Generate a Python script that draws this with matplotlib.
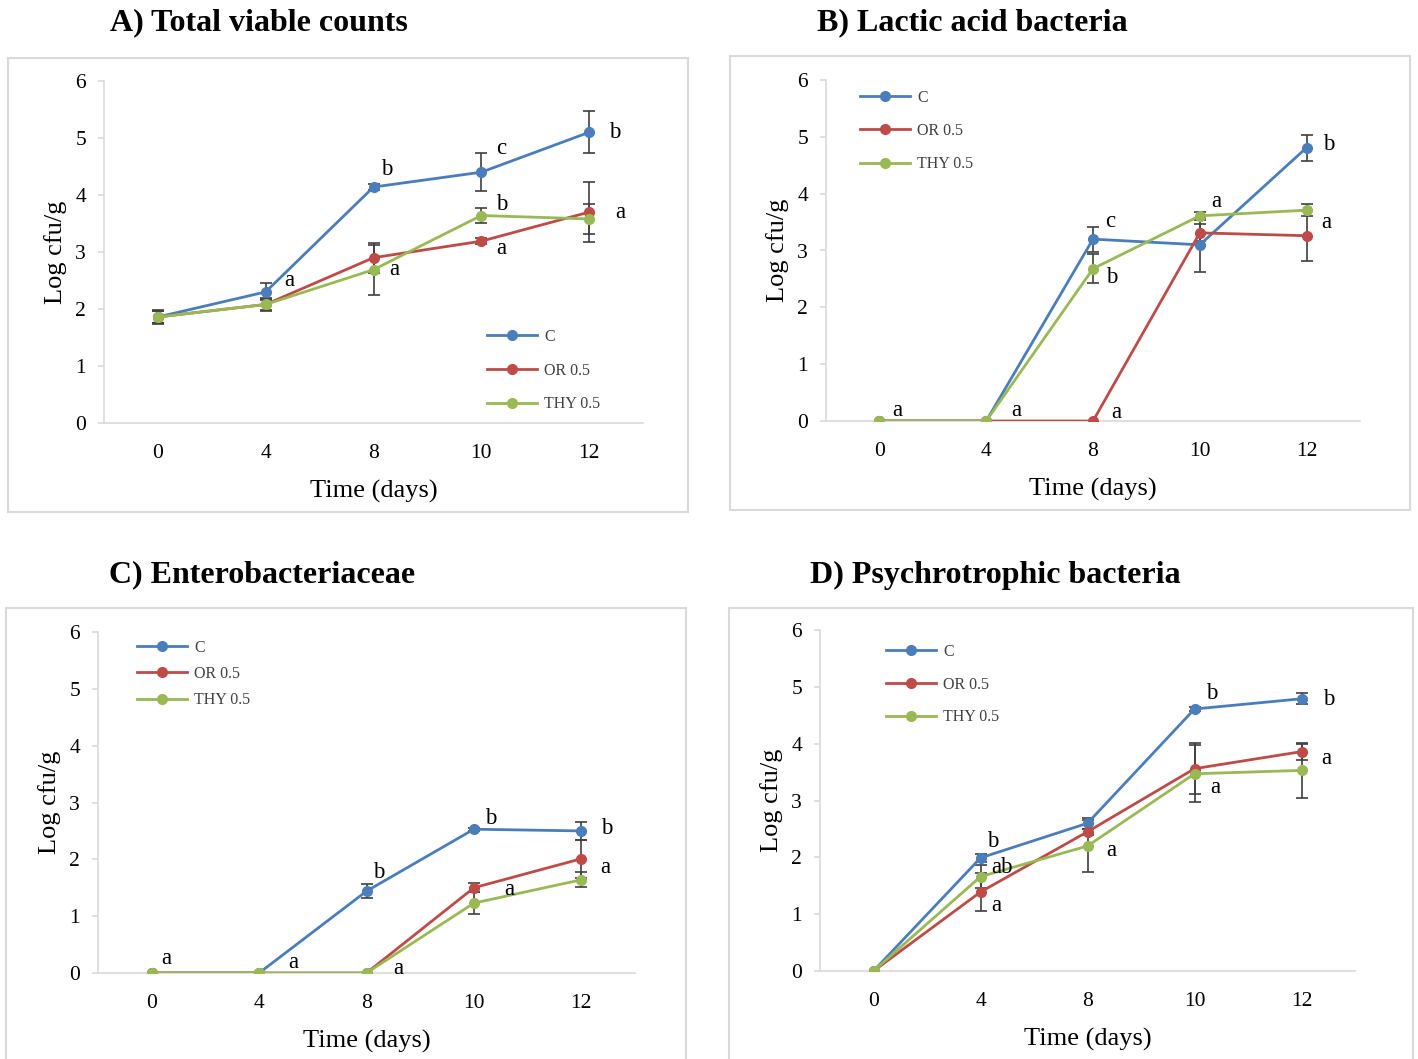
import numpy as np
import matplotlib
matplotlib.use("Agg")
import matplotlib.pyplot as plt
from matplotlib.patches import Rectangle

plt.rcParams['font.family'] = ['Liberation Serif', 'DejaVu Serif']

# storage days (categorical axis)
days = ['0', '4', '8', '10', '12']
series_names = ['C', 'OR 0.5', 'THY 0.5']
colors = ['#4A7EBB', '#BE4B48', '#98B954']

# A) Total viable counts
tvc_c = [1.86, 2.30, 4.14, 4.40, 5.10]
tvc_c_err = [0.13, 0.15, 0.05, 0.33, 0.37]
tvc_or = [1.86, 2.08, 2.90, 3.19, 3.70]
tvc_or_err = [0.10, 0.12, 0.26, 0.05, 0.53]
tvc_thy = [1.86, 2.08, 2.69, 3.64, 3.58]
tvc_thy_err = [0.10, 0.10, 0.44, 0.13, 0.27]

# B) Lactic acid bacteria
lab_c = [0, 0, 3.20, 3.10, 4.81]
lab_c_err = [0, 0, 0.22, 0.48, 0.23]
lab_or = [0, 0, 0, 3.31, 3.26]
lab_or_err = [0, 0, 0, 0.15, 0.44]
lab_thy = [0, 0, 2.68, 3.61, 3.71]
lab_thy_err = [0, 0, 0.25, 0.07, 0.10]

# C) Enterobacteriaceae
ent_c = [0, 0, 1.44, 2.53, 2.50]
ent_c_err = [0, 0, 0.12, 0.03, 0.16]
ent_or = [0, 0, 0, 1.50, 2.01]
ent_or_err = [0, 0, 0, 0.08, 0.33]
ent_thy = [0, 0, 0, 1.23, 1.64]
ent_thy_err = [0, 0, 0, 0.20, 0.13]

# D) Psychrotrophic bacteria
psy_c = [0, 1.99, 2.60, 4.61, 4.79]
psy_c_err = [0, 0.07, 0.10, 0.03, 0.10]
psy_or = [0, 1.39, 2.45, 3.56, 3.86]
psy_or_err = [0, 0.33, 0.05, 0.45, 0.14]
psy_thy = [0, 1.66, 2.20, 3.47, 3.53]
psy_thy_err = [0, 0.20, 0.45, 0.50, 0.48]

titles = ['A) Total viable counts', 'B) Lactic acid bacteria',
          'C) Enterobacteriaceae', 'D) Psychrotrophic bacteria']

# significance letters: (series, day index, letter)
letters_a = [(0, 1, 'a'), (0, 2, 'b'), (2, 2, 'a'), (0, 3, 'c'), (2, 3, 'b'),
             (1, 3, 'a'), (0, 4, 'b'), (1, 4, 'a')]
letters_b = [(0, 0, 'a'), (0, 1, 'a'), (1, 2, 'a'), (0, 2, 'c'), (2, 2, 'b'),
             (2, 3, 'a'), (0, 4, 'b'), (2, 4, 'a')]
letters_c = [(0, 0, 'a'), (0, 1, 'a'), (1, 2, 'a'), (0, 2, 'b'), (0, 3, 'b'),
             (2, 3, 'a'), (0, 4, 'b'), (2, 4, 'a')]
letters_d = [(0, 1, 'b'), (2, 1, 'ab'), (1, 1, 'a'), (2, 2, 'a'), (0, 3, 'b'),
             (2, 3, 'a'), (0, 4, 'b'), (1, 4, 'a')]

# label offsets in pixels from the marker
offs_a = [(24, 11), (13, 18), (21, 0), (20, 24), (20, 11), (20, -7), (26, 0), (31, 0)]
offs_b = [(18, 11), (30, 11), (23, 9), (17, 18), (19, -9), (17, 14), (22, 3), (20, -12)]
offs_c = [(15, 14), (34, 11), (32, 5), (12, 19), (17, 11), (35, 14), (25, 2), (24, 12)]
offs_d = [(12, 16), (21, 9), (16, -13), (24, -5), (17, 15), (21, -14), (27, -1), (25, -7)]

W, H = 1418, 1059
fig = plt.figure(figsize=(W / 100, H / 100), dpi=100)


def px_rect(l, t, r, b):
    return [l / W, 1 - b / H, (r - l) / W, (b - t) / H]


panels = [
    dict(vals=[tvc_c, tvc_or, tvc_thy], errs=[tvc_c_err, tvc_or_err, tvc_thy_err],
         letters=letters_a, offs=offs_a, ax=(104, 81, 643, 423), box=(8, 58, 688, 512),
         title=(259, 23), leg=(487, 336, 34)),
    dict(vals=[lab_c, lab_or, lab_thy], errs=[lab_c_err, lab_or_err, lab_thy_err],
         letters=letters_b, offs=offs_b, ax=(826, 80, 1360, 421), box=(730, 56, 1410, 510),
         title=(972, 23), leg=(860, 97, 33.5)),
    dict(vals=[ent_c, ent_or, ent_thy], errs=[ent_c_err, ent_or_err, ent_thy_err],
         letters=letters_c, offs=offs_c, ax=(98, 632, 635, 973), box=(6, 608, 686, 1062),
         title=(262, 575), leg=(137, 647, 26.5)),
    dict(vals=[psy_c, psy_or, psy_thy], errs=[psy_c_err, psy_or_err, psy_thy_err],
         letters=letters_d, offs=offs_d, ax=(820, 630, 1355, 971), box=(729, 608, 1413, 1062),
         title=(995, 575), leg=(886, 651, 33)),
]

x = np.arange(len(days))
leg_fs = 11.5
for p, title in zip(panels, titles):
    l, t, r, b = p['box']
    fig.patches.append(Rectangle((l / W, 1 - b / H), (r - l) / W, (b - t) / H,
                                 transform=fig.transFigure, fill=False,
                                 edgecolor='#D9D9D9', lw=1.5))
    fig.text(p['title'][0] / W, 1 - p['title'][1] / H, title, ha='center', va='center',
             fontsize=23, fontweight='bold')

    ax = fig.add_axes(px_rect(*p['ax']))
    for vals, errs, col, name in zip(p['vals'], p['errs'], colors, series_names):
        vals = np.array(vals)
        errs = np.array(errs)
        m = errs > 0
        ax.errorbar(x[m], vals[m], yerr=errs[m], fmt='none', ecolor='#404040',
                    elinewidth=1.2, capsize=4, capthick=1.2, zorder=2)
        ax.plot(x, vals, '-o', color=col, lw=2, ms=7, label=name, zorder=3)

    for (si, di, txt), (dx, dy) in zip(p['letters'], p['offs']):
        ax.annotate(txt, (x[di], p['vals'][si][di]), xytext=(dx * 0.72, dy * 0.72),
                    textcoords='offset points', ha='center', va='center', fontsize=16.5)

    ax.set_xlim(-0.5, 4.5)
    ax.set_ylim(0, 6)
    ax.set_xticks(x, days)
    ax.set_yticks(range(7))
    for s in ['top', 'right']:
        ax.spines[s].set_visible(False)
    for s in ['left', 'bottom']:
        ax.spines[s].set_color('#D9D9D9')
        ax.spines[s].set_linewidth(1.2)
    ax.tick_params(axis='x', length=0, pad=15, labelsize=15.5)
    ax.tick_params(axis='y', length=4, color='#D9D9D9', width=1.2, pad=9, labelsize=15.5)
    ax.set_xlabel('Time (days)', fontsize=19, labelpad=12)
    ax.set_ylabel('Log cfu/g', fontsize=19, labelpad=6)

    lx, ly, pitch = p['leg']
    fs_px = leg_fs / 0.72
    ax.legend(loc='upper left', bbox_to_anchor=(lx / W, 1 - (ly - 0.45 * fs_px) / H),
              bbox_transform=fig.transFigure, frameon=False, fontsize=leg_fs,
              borderpad=0, borderaxespad=0, handlelength=50 / fs_px,
              handletextpad=0.45, labelspacing=(pitch - 1.02 * fs_px) / fs_px,
              labelcolor='#404040')

fig.savefig('out.png', dpi=100)
